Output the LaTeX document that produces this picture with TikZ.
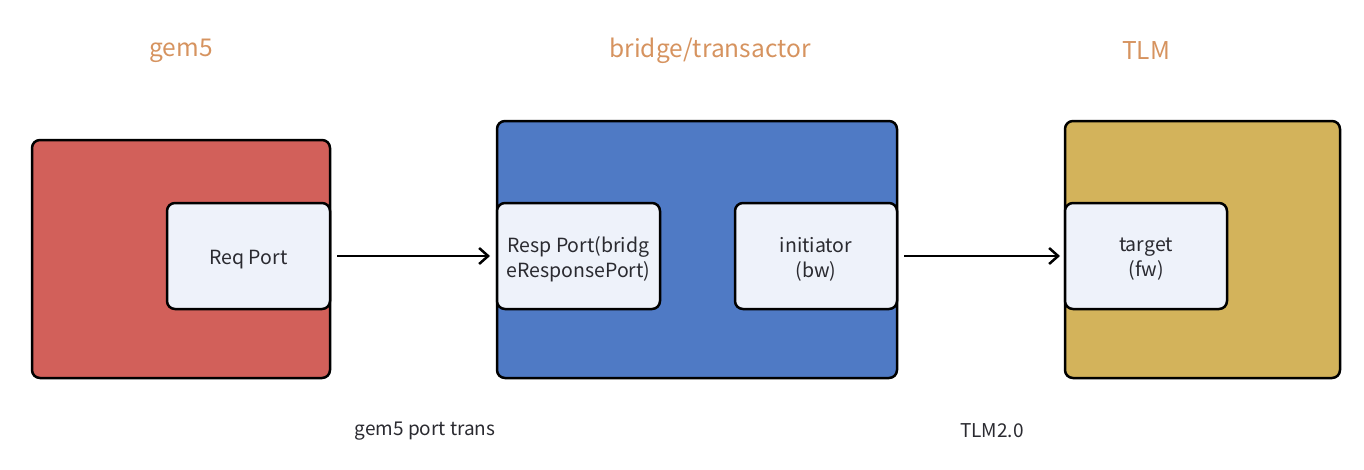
\documentclass[tikz,border=0pt]{standalone}
\usepackage{fontspec}
\setmainfont{Noto Sans CJK SC}
\usetikzlibrary{arrows.meta}
\definecolor{redbox}{HTML}{D2605A}
\definecolor{bluebox}{HTML}{4F7AC5}
\definecolor{goldbox}{HTML}{D3B35B}
\definecolor{portfill}{HTML}{EEF2FA}
\definecolor{titlecol}{HTML}{D6935F}
\definecolor{txt}{HTML}{2A2A30}
\tikzset{
  outer/.style={draw=black, line width=2.5pt, rounded corners=8pt},
  port/.style={draw=black, line width=2.5pt, rounded corners=8pt, fill=portfill},
  porttext/.style={text=txt, font=\fontsize{19.5}{25}\selectfont, align=center},
  title/.style={text=titlecol, font=\fontsize{24.5}{28}\selectfont},
  lab/.style={text=txt, font=\fontsize{19}{24}\selectfont},
  conn/.style={line width=2.5pt, -{Straight Barb[length=9pt,width=16pt,line width=2.5pt]}}
}
\begin{document}
\begin{tikzpicture}[x=1pt,y=-1pt]
\useasboundingbox (0,0) rectangle (1364,469);
% outer boxes
\path[outer, fill=redbox] (32,140) rectangle (330,378);
\path[outer, fill=bluebox] (497,121) rectangle (897,378);
\path[outer, fill=goldbox] (1065,121) rectangle (1340,378);
% ports
\draw[port] (167,203) rectangle (330,309);
\node[porttext] (req) at (248.5,259.5) {Req Port};
\coordinate (reqE) at (337,256);
\draw[port] (497,203) rectangle (660,309);
\node[porttext] (resp) at (578.5,259.5) {Resp Port(bridg\\eResponsePort)};
\coordinate (respW) at (490,256);
\draw[port] (735,203) rectangle (897,309);
\node[porttext] (init) at (816,259.5) {initiator\\(bw)};
\coordinate (initE) at (904,256);
\draw[port] (1065,203) rectangle (1227,309);
\node[porttext] (targ) at (1146,259.5) {target\\(fw)};
\coordinate (targW) at (1060,256);
% connectors
\draw[conn] (reqE) -- (respW);
\draw[conn] (initE) -- (targW);
% titles
\node[title] (t1) at (181,51) {gem5};
\node[title] (t2) at (710,51) {bridge/transactor};
\node[title] (t3) at (1146,51) {TLM};
% bottom labels
\node[lab] (l1) at (425,431) {gem5 port trans};
\node[lab] (l2) at (992,431) {TLM2.0};
\end{tikzpicture}
\end{document}
